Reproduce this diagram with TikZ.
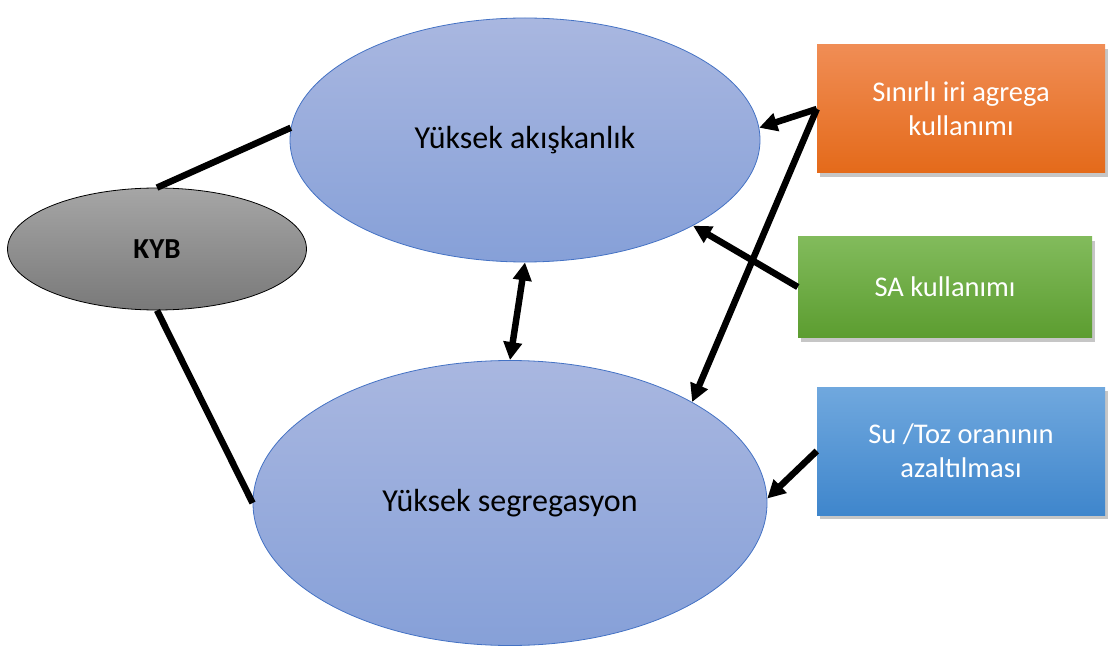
\documentclass[tikz,border=0pt]{standalone}
\usepackage{fontspec}
\setmainfont{Carlito}
\usetikzlibrary{shapes.geometric,shadows,arrows.meta}
\definecolor{elltop}{HTML}{A9B7E0}
\definecolor{ellbot}{HTML}{86A0D8}
\definecolor{ellline}{HTML}{4472C4}
\definecolor{orngtop}{HTML}{F08D55}
\definecolor{orngbot}{HTML}{E46A1A}
\definecolor{grntop}{HTML}{82BB5C}
\definecolor{grnbot}{HTML}{5C9D30}
\definecolor{blutop}{HTML}{70A8DE}
\definecolor{blubot}{HTML}{3F86CC}
\tikzset{
	bigell/.style={ellipse,draw=ellline,line width=0.8pt,top color=elltop,bottom color=ellbot,inner sep=0pt,font=\fontsize{32}{36}\selectfont},
	kybell/.style={ellipse,draw=black,line width=0.8pt,top color=gray!70,bottom color=gray!95!black,inner sep=0pt,font=\fontsize{29}{32}\selectfont\bfseries},
	factor/.style={rectangle,minimum width=288pt,align=center,text=white,font=\fontsize{28.5}{34}\selectfont,drop shadow={opacity=0.45,shadow xshift=3pt,shadow yshift=-4pt}},
	link/.style={line width=6.5pt},
	push/.style={line width=6.5pt,-{Triangle[length=18pt,width=18pt]}},
}
\begin{document}
\begin{tikzpicture}[x=1pt,y=-1pt]
	\useasboundingbox (0,0) rectangle (1109,650);
	\node[bigell,minimum width=470pt,minimum height=244pt] (flow) at (525,140) {Yüksek akışkanlık};
	\node[bigell,minimum width=514pt,minimum height=285pt] (segr) at (510,503) {Yüksek segregasyon};
	\node[kybell,minimum width=299pt,minimum height=122pt] (kyb) at (157,249) {KYB};

	\node[factor,minimum height=128pt,top color=orngtop,bottom color=orngbot] (agg) at (961,109) {Sınırlı iri agrega\\kullanımı};
	\node[factor,minimum width=294pt,minimum height=101pt,top color=grntop,bottom color=grnbot] (sa) at (945,287) {SA kullanımı};
	\node[factor,minimum height=128pt,top color=blutop,bottom color=blubot] (wc) at (961,451) {Su /Toz oranının\\azaltılması};

	\draw[link] (kyb.north) -- (flow.177);
	\draw[link] (kyb.south) -- (segr.west);
	\draw[link,{Triangle[length=18pt,width=18pt]}-{Triangle[length=18pt,width=18pt]}] (flow.south) -- (segr.north);

	\draw[push] (agg.west) -- (flow.3);
	\draw[push] (agg.west) -- (segr.29);
	\draw[push] (sa.west) -- (flow.-27);
	\draw[push] (wc.west) -- (segr.1);
\end{tikzpicture}
\end{document}
